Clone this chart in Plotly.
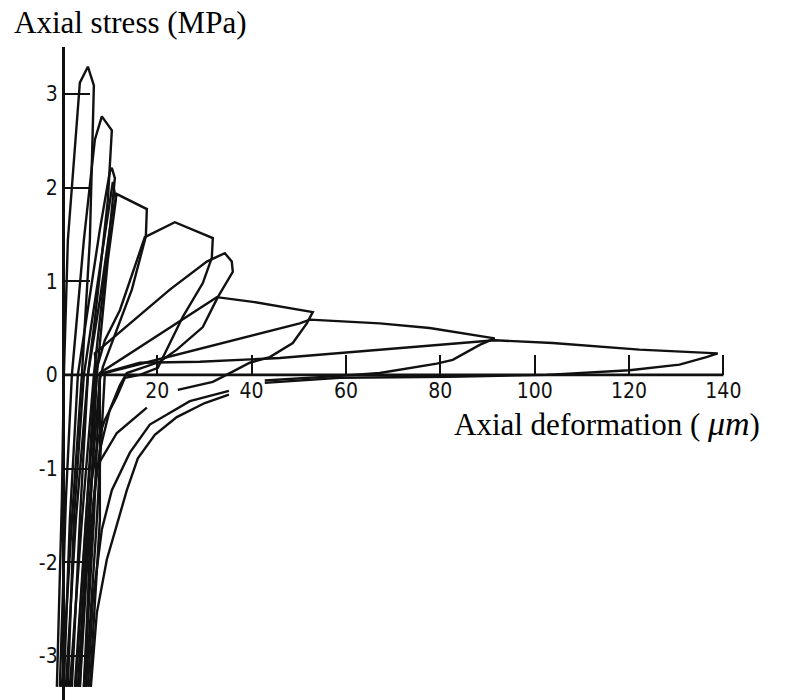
import plotly.graph_objects as go

# Cyclic tension-compression test: axial deformation (µm) vs axial stress (MPa).
# Each cycle runs from the compression end, reloads into tension, follows the
# softening branch and unloads back into compression.  None = gap behind a label.
cycle1_def = [-1.27, -0.21, 0.21, 1.06, 3.6, 5.3, 6.57, 5.72, 4.03, 1.91, -0.21]
cycle1_str = [-3.33, -1.33, 0.0, 1.44, 3.12, 3.29, 3.09, 1.44, 0.0, -1.55, -3.33]

cycle2_def = [-0.64, 0.64, 1.91, 4.45, 6.78, 8.26, 10.38, 9.54, 6.78, 5.3, 2.75, 0.64]
cycle2_str = [-3.33, -1.33, 0.0, 1.44, 2.51, 2.76, 2.61, 1.87, 0.59, 0.0, -1.55, -3.33]

cycle3_def = [0.21, 1.48, 3.18, 7.84, 9.96, 10.38, 11.02, 9.96, 7.84, 6.57, 4.03, 1.48]
cycle3_str = [-3.33, -1.55, 0.0, 1.55, 2.17, 2.21, 2.10, 1.55, 0.59, 0.0, -1.55, -3.33]

cycle4_def = [1.06, 2.33, 4.45, 9.54, 10.59, 11.23, 9.54, 7.2, 4.87, 2.54]
cycle4_str = [-3.33, -1.55, 0.0, 1.71, 2.06, 1.87, 1.23, 0.0, -1.55, -3.33]

cycle5_def = [1.91, 3.6, 5.3, 7.84, 10.38, 11.44, 17.8, 17.59, 14.62, 8.48, 7.84, 6.78, 5.3, 3.18]
cycle5_str = [-3.33, -1.55, 0.0, 0.80, 1.71, 1.93, 1.77, 1.48, 0.91, 0.085, -0.05, -0.69, -1.55, -3.33]

cycle6_def = [2.75, 4.87, 6.78, 8.9, 12.08, 17.37, 23.73, 31.78, 31.57, 29.66, 25.42, 20.13,
              16.32, 13.14, 11.44, 8.9, 7.42, 6.14, 4.87, 3.6]
cycle6_str = [-3.33, -1.55, 0.0, 0.37, 0.69, 1.47, 1.63, 1.46, 1.25, 0.98, 0.62, 0.075,
              0.0, -0.03, -0.23, -0.48, -0.69, -1.12, -1.97, -3.33]

cycle7_def = [3.6, 5.72, 7.2, 6.78, 9.32, 22.67, 30.51, 34.32, 35.8, 36.02, 32.84, 29.66,
              24.15, 20.55, 13.56, 12.08, 9.96, 7.84, 6.57, 5.3, 4.45]
cycle7_str = [-3.33, -1.55, 0.02, 0.23, 0.34, 0.91, 1.21, 1.30, 1.21, 1.10, 0.83, 0.51,
              0.27, 0.14, 0.02, -0.11, -0.37, -0.80, -1.33, -2.40, -3.33]

cycle8_def = [4.45, 6.57, 7.84, 32.63, 40.25, 52.97, 51.7, 48.73, 43.86, 39.62, 35.8, 31.78,
              24.36, None, 17.8, 11.44, 7.2, 5.72, 4.87]
cycle8_str = [-3.33, -1.55, 0.02, 0.83, 0.78, 0.67, 0.55, 0.34, 0.19, 0.13, 0.03, -0.075,
              -0.16, None, -0.35, -0.62, -0.98, -1.76, -3.33]

cycle9_def = [4.87, 7.2, 8.9, 50.21, 52.33, 67.16, 77.75, 91.53, 88.35, 82.63, 79.24, 67.16,
              58.69, 42.8, None, 35.2, 26.91, 18.43, 14.2, 10.38, 8.26, 6.36, 5.3]
cycle9_str = [-3.33, -1.55, 0.02, 0.55, 0.59, 0.55, 0.50, 0.39, 0.32, 0.16, 0.12, 0.02,
              -0.01, -0.06, None, -0.17, -0.28, -0.53, -0.83, -1.23, -1.65, -2.40, -3.33]

cycle10_def = [5.72, 7.84, 7.84, 16.32, 29.03, 45.98, 91.53, 103.8, 122.2, 138.8, 136.4, 130.7,
               120.1, 109.5, 102.5, 81.99, 58.69, 42.8, None, 35.2, 30.08, 24.15, 19.49,
               15.89, 13.56, 11.44, 9.32, 7.2, 5.93]
cycle10_str = [-3.33, -1.55, 0.01, 0.13, 0.14, 0.18, 0.37, 0.34, 0.27, 0.23, 0.19, 0.11,
               0.05, 0.02, 0.0, -0.02, -0.03, -0.085, None, -0.21, -0.30, -0.45, -0.64,
               -0.89, -1.23, -1.60, -1.97, -2.54, -3.33]

cycles = [
    (cycle1_def, cycle1_str), (cycle2_def, cycle2_str), (cycle3_def, cycle3_str),
    (cycle4_def, cycle4_str), (cycle5_def, cycle5_str), (cycle6_def, cycle6_str),
    (cycle7_def, cycle7_str), (cycle8_def, cycle8_str), (cycle9_def, cycle9_str),
    (cycle10_def, cycle10_str),
]

x_ticks = [20, 40, 60, 80, 100, 120, 140]
y_ticks = [-3, -2, -1, 0, 1, 2, 3]
y_tick_text = ["-3", "-2", "-1", "0", "1", "2", "3"]

X_RANGE = [-4, 152]
Y_RANGE = [-3.47, 3.5]

INK = "#111111"
TICK_FONT = dict(family="Liberation Sans Narrow, DejaVu Sans Condensed, Arial Narrow, sans-serif",
                 size=21, color=INK)
TITLE_FONT = dict(family="Liberation Serif, Times New Roman, serif", size=31, color="#000000")

fig = go.Figure()
for d, s in cycles:
    fig.add_trace(go.Scatter(x=d, y=s, mode="lines", connectgaps=False,
                             line=dict(color=INK, width=2.4), hoverinfo="skip",
                             showlegend=False))

# horizontal axis line drawn from the origin to the last tick only
fig.add_shape(type="line", xref="x", yref="y", x0=0, x1=x_ticks[-1], y0=0, y1=0,
              line=dict(color=INK, width=2.8))

fig.update_layout(
    width=792, height=700,
    margin=dict(l=44, r=12, t=47, b=0, autoexpand=False),
    paper_bgcolor="white", plot_bgcolor="white",
    showlegend=False,
    xaxis=dict(range=X_RANGE, anchor="free",
               position=(0 - Y_RANGE[0]) / (Y_RANGE[1] - Y_RANGE[0]),
               showgrid=False, zeroline=False, showline=False,
               tickmode="array", tickvals=x_ticks, ticks="inside", ticklen=20,
               tickwidth=1.6, tickcolor=INK, tickfont=TICK_FONT, ticklabelstandoff=1),
    yaxis=dict(range=Y_RANGE, anchor="free",
               position=(0 - X_RANGE[0]) / (X_RANGE[1] - X_RANGE[0]),
               showgrid=False, zeroline=False, showline=True, linecolor=INK, linewidth=3,
               tickmode="array", tickvals=y_ticks, ticktext=y_tick_text,
               ticks="inside", ticklen=25, tickwidth=1.6, tickcolor=INK,
               tickfont=TICK_FONT, ticklabelstandoff=0),
    annotations=[
        dict(text="Axial stress (MPa)", xref="paper", yref="paper",
             x=-0.044, y=1.038, xanchor="left", yanchor="middle",
             showarrow=False, font=TITLE_FONT),
        dict(text="Axial deformation ( <i><span style='font-size:34px'>μm</span></i>)",
             xref="paper", yref="paper", x=0.554, y=0.424,
             xanchor="left", yanchor="middle", showarrow=False, font=TITLE_FONT),
    ],
)

fig.write_html("out.html")
